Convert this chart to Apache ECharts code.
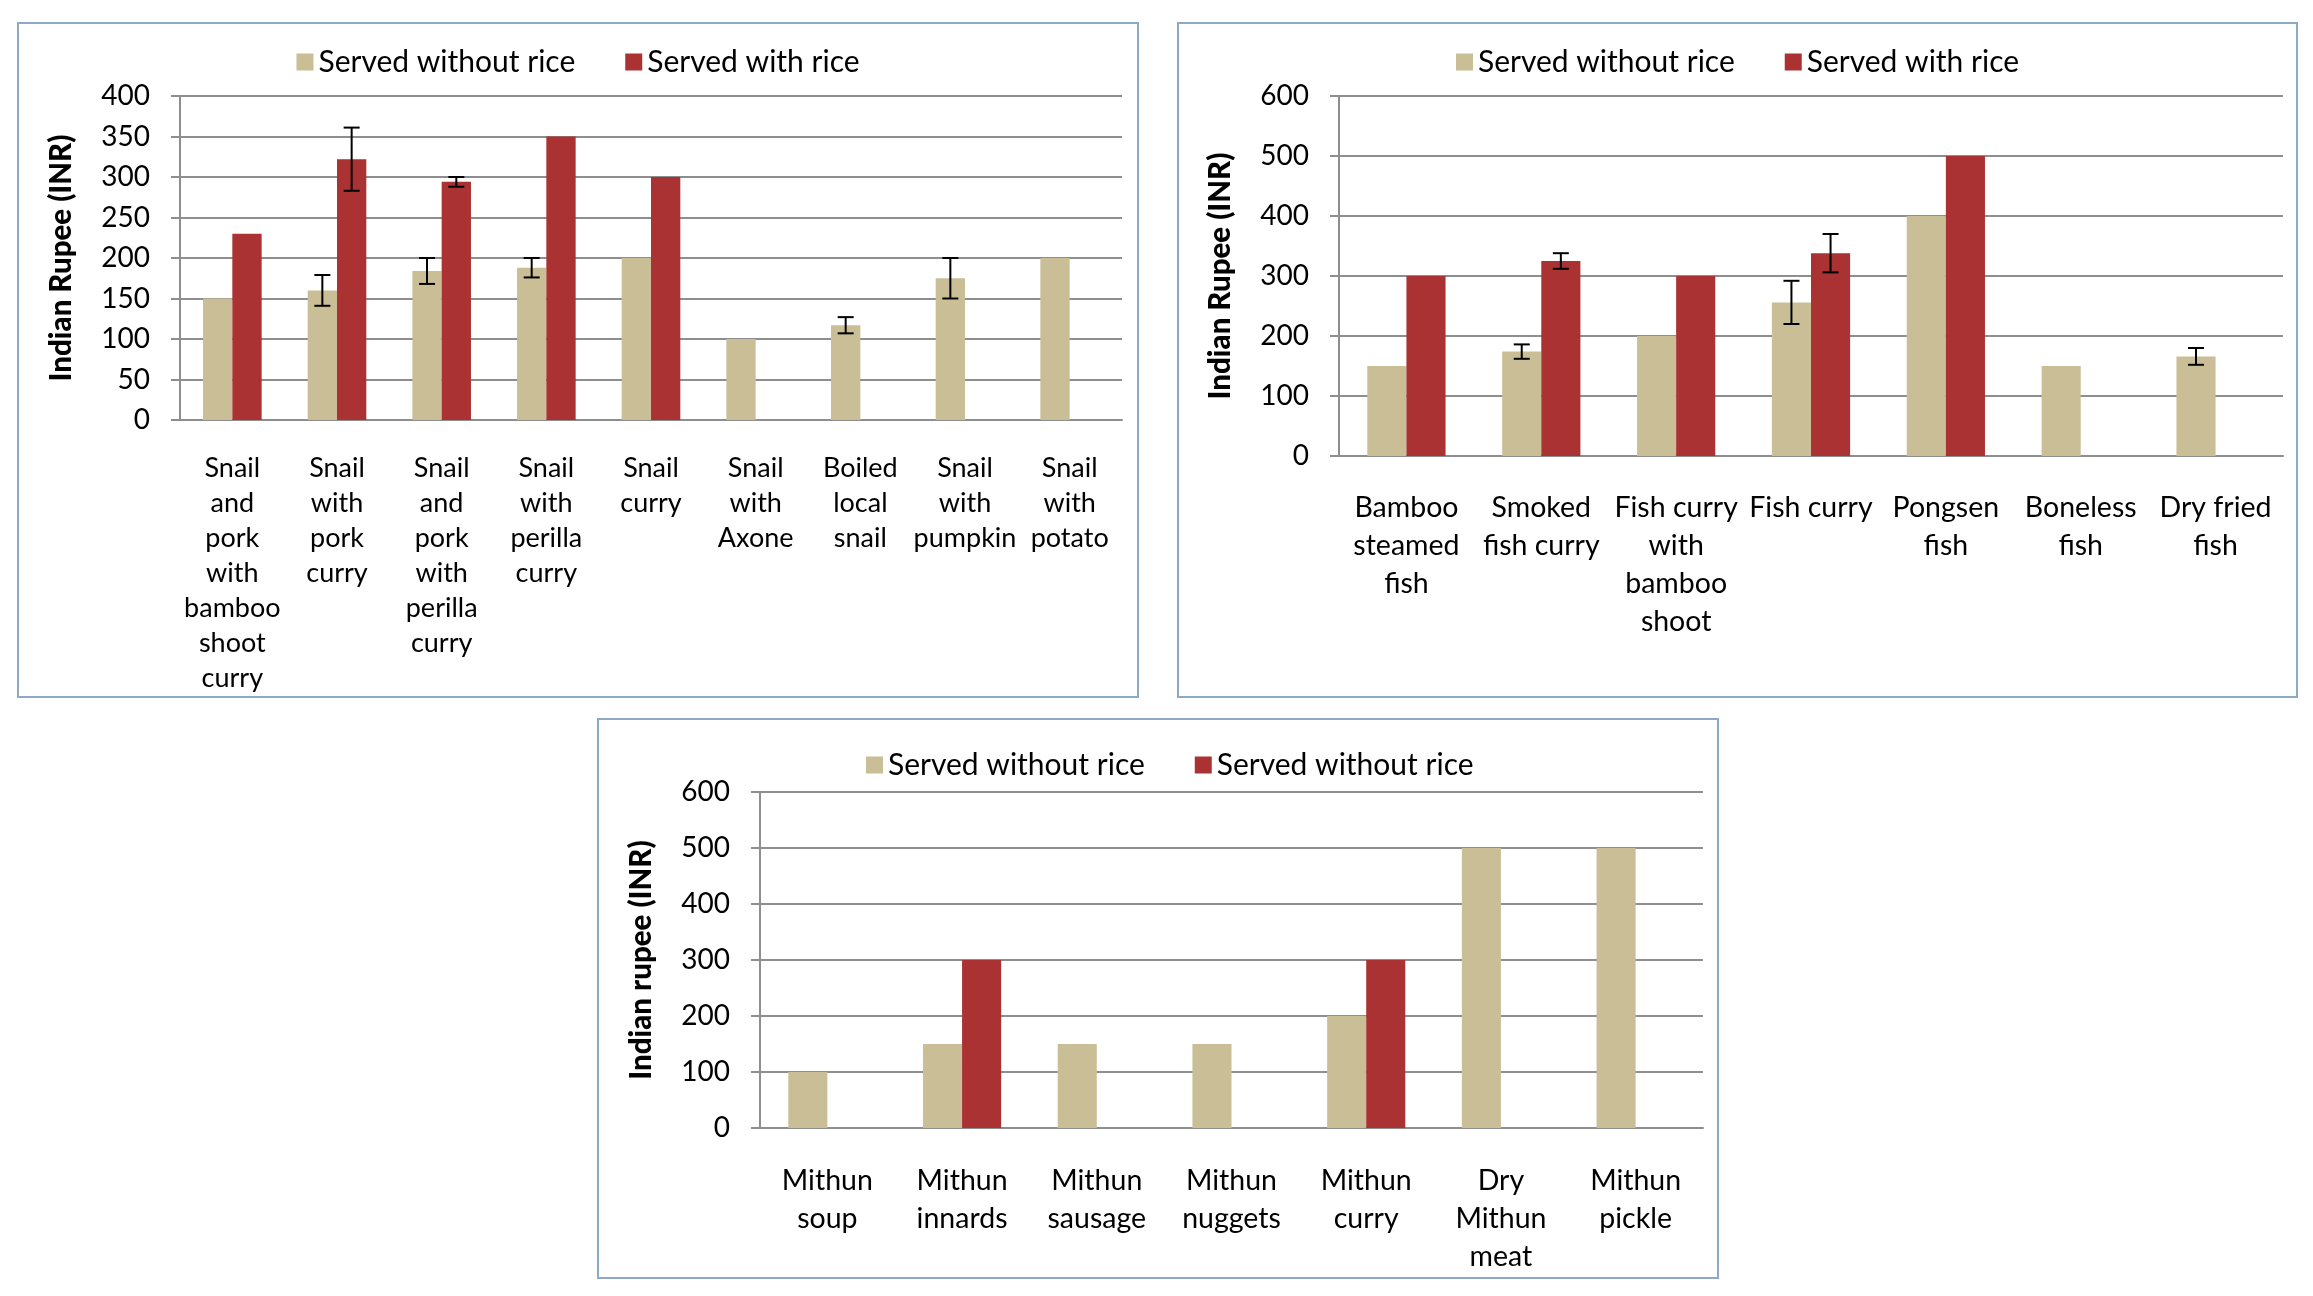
<!DOCTYPE html>
<html>
<head>
<meta charset="utf-8">
<script src="https://cdn.jsdelivr.net/npm/echarts@6/dist/echarts.min.js"></script>
<style>
  body { margin: 0; background: #fff; width: 2313px; height: 1296px; position: relative; overflow: hidden; }
  .panel { position: absolute; outline: 2px solid #8ea9c8; outline-offset: -2px; }
</style>
</head>
<body>
<div id="snail" class="panel" style="left:17px;top:22px;width:1122px;height:676px"></div>
<div id="fish" class="panel" style="left:1177px;top:22px;width:1121px;height:676px"></div>
<div id="mithun" class="panel" style="left:597px;top:718px;width:1122px;height:561px"></div>
<script>
// snail dishes
const snailCategories = [
  'Snail\nand\npork\nwith\nbamboo\nshoot\ncurry',
  'Snail\nwith\npork\ncurry',
  'Snail\nand\npork\nwith\nperilla\ncurry',
  'Snail\nwith\nperilla\ncurry',
  'Snail\ncurry',
  'Snail\nwith\nAxone',
  'Boiled\nlocal\nsnail',
  'Snail\nwith\npumpkin',
  'Snail\nwith\npotato'
];
const snailWithout = [150, 160, 184, 188, 200, 100, 117, 175, 200];
const snailWith = [230, 322, 294, 350, 300, null, null, null, null];
const snailErrWithout = [0, 19, 16, 12, 0, 0, 10, 25, 0];
const snailErrWith = [0, 39, 6, 0, 0, 0, 0, 0, 0];

// fish dishes
const fishCategories = [
  'Bamboo\nsteamed\nfish',
  'Smoked\nfish curry',
  'Fish curry\nwith\nbamboo\nshoot',
  'Fish curry',
  'Pongsen\nfish',
  'Boneless\nfish',
  'Dry fried\nfish'
];
const fishWithout = [150, 174, 200, 256, 400, 150, 166];
const fishWith = [300, 325, 300, 338, 500, null, null];
const fishErrWithout = [0, 12, 0, 36, 0, 0, 14];
const fishErrWith = [0, 13, 0, 32, 0, 0, 0];

// mithun dishes
const mithunCategories = [
  'Mithun\nsoup',
  'Mithun\ninnards',
  'Mithun\nsausage',
  'Mithun\nnuggets',
  'Mithun\ncurry',
  'Dry\nMithun\nmeat',
  'Mithun\npickle'
];
const mithunWithout = [100, 150, 150, 150, 200, 500, 500];
const mithunWith = [null, 300, null, null, 300, null, null];

const TAN = '#c9be96';
const RED = '#aa3232';
const GRAY = '#8e8e8e';
const FONT = 'Lato, "Open Sans", sans-serif';

function errorSeries (values, errs, side, gap) {
  const data = [];
  values.forEach((v, i) => {
    if (v != null && errs && errs[i] > 0) data.push([i, v - errs[i], v + errs[i]]);
  });
  return {
    type: 'custom',
    data: data,
    z: 10,
    silent: true,
    encode: { x: 0, y: [1, 2] },
    renderItem: function (params, api) {
      const catW = api.size([1, 0])[0];
      const barW = catW * (1 - gap) / 2;
      const x = api.coord([api.value(0), 0])[0] + side * barW / 2;
      const lo = api.coord([api.value(0), api.value(1)])[1];
      const hi = api.coord([api.value(0), api.value(2)])[1];
      const cap = 8;
      const style = { stroke: '#000', lineWidth: 2 };
      return {
        type: 'group',
        children: [
          { type: 'line', shape: { x1: x, y1: lo, x2: x, y2: hi }, style: style },
          { type: 'line', shape: { x1: x - cap, y1: hi, x2: x + cap, y2: hi }, style: style },
          { type: 'line', shape: { x1: x - cap, y1: lo, x2: x + cap, y2: lo }, style: style }
        ]
      };
    }
  };
}

function buildOption (c) {
  return {
    animation: false,
    textStyle: { fontFamily: FONT },
    legend: {
      top: c.legendTop,
      left: c.legendLeft,
      icon: 'rect',
      itemWidth: 17,
      itemHeight: 17,
      itemGap: 50,
      formatter: (n) => n.trim(),
      textStyle: { fontSize: 30, color: '#000', fontFamily: FONT },
      data: c.names
    },
    grid: c.grid,
    xAxis: {
      type: 'category',
      data: c.categories,
      axisLine: { lineStyle: { color: GRAY, width: 2 } },
      axisTick: { length: 9, lineStyle: { color: GRAY, width: 2 } },
      axisLabel: {
        interval: 0, fontSize: c.catFont, lineHeight: c.catLine, margin: c.catMargin,
        color: '#000', fontFamily: FONT
      }
    },
    yAxis: {
      type: 'value',
      min: 0,
      max: c.max,
      interval: c.interval,
      name: c.yName,
      nameLocation: 'middle',
      nameRotate: 90,
      nameGap: 104,
      nameTextStyle: { fontSize: 29.5, fontWeight: 900, color: '#000', fontFamily: FONT },
      axisLine: { show: true, lineStyle: { color: GRAY, width: 2 } },
      axisTick: { show: true, length: 9, lineStyle: { color: GRAY, width: 2 } },
      axisLabel: { fontSize: 28, margin: 30, color: '#000', fontFamily: FONT },
      splitLine: { lineStyle: { color: GRAY, width: 2 } }
    },
    series: [
      {
        name: c.names[0], type: 'bar', data: c.without,
        barGap: 0, barCategoryGap: (c.gap * 100) + '%',
        itemStyle: { color: TAN }
      },
      { name: c.names[1], type: 'bar', data: c.with, itemStyle: { color: RED } },
      errorSeries(c.without, c.errWithout, -1, c.gap),
      errorSeries(c.with, c.errWith, 1, c.gap)
    ]
  };
}

const charts = [
  {
    id: 'snail', categories: snailCategories, without: snailWithout, with: snailWith,
    errWithout: snailErrWithout, errWith: snailErrWith,
    names: ['Served without rice', 'Served with rice'], yName: 'Indian Rupee (INR)',
    max: 400, interval: 50, gap: 0.44, legendTop: 20, legendLeft: 'center',
    grid: { left: 163, top: 74, right: 17, bottom: 278 },
    catFont: 27, catLine: 35, catMargin: 31
  },
  {
    id: 'fish', categories: fishCategories, without: fishWithout, with: fishWith,
    errWithout: fishErrWithout, errWith: fishErrWith,
    names: ['Served without rice', 'Served with rice'], yName: 'Indian Rupee (INR)',
    max: 600, interval: 100, gap: 0.42, legendTop: 20, legendLeft: 'center',
    grid: { left: 162, top: 74, right: 15, bottom: 242 },
    catFont: 28.5, catLine: 38, catMargin: 33
  },
  {
    id: 'mithun', categories: mithunCategories, without: mithunWithout, with: mithunWith,
    errWithout: null, errWith: null,
    names: ['Served without rice', 'Served without rice '], yName: 'Indian rupee (INR)',
    max: 600, interval: 100, gap: 0.42, legendTop: 27, legendLeft: 264,
    grid: { left: 163, top: 74, right: 16, bottom: 151 },
    catFont: 28.5, catLine: 38, catMargin: 34
  }
];

charts.forEach((c) => {
  const myChart = echarts.init(document.getElementById(c.id));
  myChart.setOption(buildOption(c));
});
</script>
</body>
</html>
